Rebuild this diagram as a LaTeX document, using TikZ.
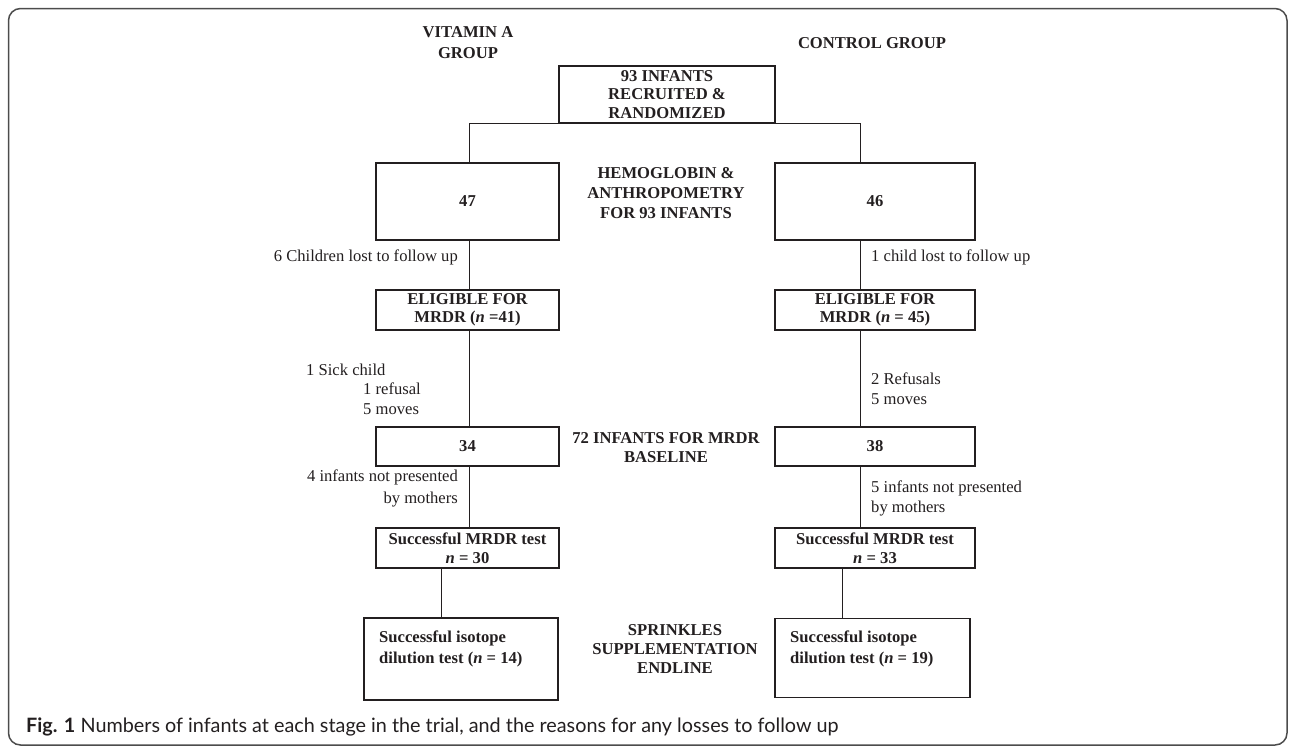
\documentclass[tikz,border=0pt]{standalone}
\usepackage{fontspec}
\setmainfont{Liberation Serif}
\newfontfamily\capfont{Lato}
\definecolor{ink}{HTML}{231F20}
\begin{document}
\begin{tikzpicture}[x=1pt,y=-1pt,
  every node/.style={text=ink},
  box/.style={draw=ink, line width=1.1pt, inner sep=0pt, align=center, font=\bfseries\fontsize{16.6}{19}\selectfont},
  hd/.style={align=center, inner sep=0pt, font=\bfseries\fontsize{16.6}{20}\selectfont},
  note/.style={inner sep=0pt, font=\fontsize{16.6}{19.5}\selectfont},
  conn/.style={draw=ink, line width=0.9pt}]
\useasboundingbox (0,0) rectangle (1292,747);
\draw[line width=1.5pt, black!70, rounded corners=12pt] (8.5,8.5) rectangle (1287,745);

% headings
\node[hd, font=\bfseries\fontsize{16.6}{21}\selectfont] (vita) at (468,42.5) {VITAMIN A\\GROUP};
\node[hd] (ctrl) at (872,43) {CONTROL GROUP};
\node[hd] (hemo) at (666,193) {HEMOGLOBIN \&\\ANTHROPOMETRY\\FOR 93 INFANTS};
\node[hd, font=\bfseries\fontsize{16.6}{19}\selectfont] (base) at (666,447.5) {72 INFANTS FOR MRDR\\BASELINE};
\node[hd, font=\bfseries\fontsize{16.6}{19}\selectfont] (spr) at (675,649) {SPRINKLES\\SUPPLEMENTATION\\ENDLINE};

% boxes
\node[box, minimum width=216pt, minimum height=57pt, font=\bfseries\fontsize{16.6}{18.5}\selectfont] (top) at (667,94.5) {93 INFANTS\\RECRUITED \&\\RANDOMIZED};
\node[box, minimum width=183pt, minimum height=77pt] (b47) at (467.5,201.5) {47};
\node[box, minimum width=200pt, minimum height=77pt] (b46) at (875,201.5) {46};
\node[box, minimum width=183pt, minimum height=40pt, font=\bfseries\fontsize{16.6}{18}\selectfont] (elL) at (467.5,310) {ELIGIBLE FOR\\MRDR (\textit{n} =41)};
\node[box, minimum width=200pt, minimum height=40pt, font=\bfseries\fontsize{16.6}{18}\selectfont] (elR) at (875,310) {ELIGIBLE FOR\\MRDR (\textit{n} = 45)};
\node[box, minimum width=183pt, minimum height=39pt] (b34) at (467.5,446.5) {34};
\node[box, minimum width=200pt, minimum height=39pt] (b38) at (875,446.5) {38};
\node[box, minimum width=183pt, minimum height=40pt] (mrL) at (467.5,548) {Successful MRDR test\\\textit{n} = 30};
\node[box, minimum width=200pt, minimum height=40pt] (mrR) at (875,548) {Successful MRDR test\\\textit{n} = 33};
\node[box, line width=1.5pt, minimum width=194pt, minimum height=82pt] (isoL) at (461,659) {};
\node[box, line width=1.5pt, minimum width=195pt, minimum height=79pt] (isoR) at (872.5,658) {};
\node[hd, align=left, anchor=west, font=\bfseries\fontsize{16.6}{21}\selectfont] (isoLt) at (379,648.5) {Successful isotope\\dilution test (\textit{n} = 14)};
\node[hd, align=left, anchor=west, font=\bfseries\fontsize{16.6}{21}\selectfont] (isoRt) at (790,648.5) {Successful isotope\\dilution test (\textit{n} = 19)};

% connector x positions
\coordinate (cL) at (469,0);
\coordinate (cR) at (860,0);
\coordinate (dL) at (441,0);
\coordinate (dR) at (842,0);

\draw[conn] (b47.north -| cL) |- (top.south) -| (b46.north -| cR);
\draw[conn] (b47.south -| cL) -- (elL.north -| cL);
\draw[conn] (elL.south -| cL) -- (b34.north -| cL);
\draw[conn] (b34.south -| cL) -- (mrL.north -| cL);
\draw[conn] (mrL.south -| dL) -- (isoL.north -| dL);
\draw[conn] (b46.south -| cR) -- (elR.north -| cR);
\draw[conn] (elR.south -| cR) -- (b38.north -| cR);
\draw[conn] (b38.south -| cR) -- (mrR.north -| cR);
\draw[conn] (mrR.south -| dR) -- (isoR.north -| dR);

% notes
\node[note, anchor=east] (n1) at (458,257) {6 Children lost to follow up};
\node[note, anchor=west] (n2) at (871,257) {1 child lost to follow up};
\node[note, align=left, anchor=west] (n3) at (306,389) {1 Sick child\\\hspace*{57pt}1 refusal\\\hspace*{57pt}5 moves};
\node[note, align=left, anchor=west] (n4) at (871,388.5) {2 Refusals\\5 moves};
\node[note, align=right, anchor=east, font=\fontsize{16.6}{22}\selectfont] (n5) at (458,488) {4 infants not presented\\by mothers};
\node[note, align=left, anchor=west, font=\fontsize{16.6}{20}\selectfont] (n6) at (871,498) {5 infants not presented\\by mothers};

% caption
\node[anchor=west, inner sep=0pt, font=\capfont\fontsize{19.8}{22}\selectfont] (cap) at (26,727) {\textbf{Fig. 1} Numbers of infants at each stage in the trial, and the reasons for any losses to follow up};
\end{tikzpicture}
\end{document}
